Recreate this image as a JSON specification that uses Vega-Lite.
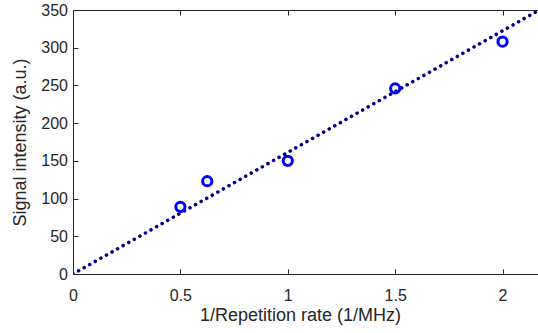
{
  "$schema": "https://vega.github.io/schema/vega-lite/v6.json",
  "width": 465,
  "height": 264,
  "autosize": {"type": "none"},
  "padding": {"left": 73, "top": 10, "right": 0, "bottom": 59},
  "background": "white",
  "config": {
    "view": {"stroke": "#262626", "strokeWidth": 1},
    "font": "Liberation Sans",
    "axis": {
      "domainColor": "#262626",
      "tickColor": "#262626",
      "labelColor": "#262626",
      "titleColor": "#262626",
      "labelFont": "Liberation Sans",
      "titleFont": "Liberation Sans",
      "labelFontSize": 16,
      "titleFontSize": 18,
      "titleFontWeight": "normal",
      "grid": false,
      "tickSize": -5,
      "labelOverlap": false,
      "labelFlush": false
    }
  },
  "datasets": {
    "pts": [
      {"x": 0.5, "y": 89},
      {"x": 0.625, "y": 123},
      {"x": 1.0, "y": 150},
      {"x": 1.5, "y": 246},
      {"x": 2.0, "y": 308}
    ],
    "fit": [
      {"x": 0, "y": 0},
      {"x": 2.165, "y": 349}
    ]
  },
  "layer": [
    {
      "data": {"name": "fit"},
      "mark": {"type": "line", "color": "#00008b", "strokeWidth": 3.5, "strokeCap": "round", "strokeDash": [0.1, 6.3], "clip": true},
      "encoding": {
        "x": {"field": "x", "type": "quantitative", "scale": {"domain": [0, 2.165], "nice": false},
          "axis": {"orient": "bottom", "values": [0, 0.5, 1, 1.5, 2], "format": "~g", "title": "1/Repetition rate (1/MHz)", "labelPadding": 18.5, "titleY": 32, "titleX": 227}},
        "y": {"field": "y", "type": "quantitative", "scale": {"domain": [0, 350], "nice": false},
          "axis": {"values": [0, 50, 100, 150, 200, 250, 300, 350], "labelOverlap": false, "labelFlush": false, "title": "Signal intensity (a.u.)", "labelPadding": 10.5, "titleX": -44}}
      }
    },
    {
      "data": {"name": "pts"},
      "mark": {"type": "point", "shape": "circle", "filled": false, "color": "#0000ff", "strokeWidth": 3, "size": 85, "opacity": 1},
      "encoding": {
        "x": {"field": "x", "type": "quantitative", "scale": {"domain": [0, 2.165], "nice": false},
          "axis": {"orient": "top", "values": [0, 0.5, 1, 1.5, 2], "labels": false, "title": null, "domain": false}},
        "y": {"field": "y", "type": "quantitative", "scale": {"domain": [0, 350], "nice": false},
          "axis": {"values": [0, 50, 100, 150, 200, 250, 300, 350], "labelOverlap": false, "labelFlush": false, "title": "Signal intensity (a.u.)", "labelPadding": 10.5, "titleX": -44}}
      }
    }
  ],
  "resolve": {"axis": {"x": "independent"}}
}
